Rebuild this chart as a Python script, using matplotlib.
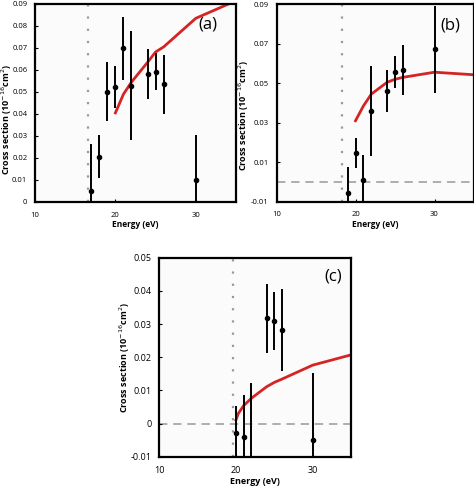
import matplotlib.pyplot as plt
from matplotlib.ticker import FuncFormatter

plt.rcParams['font.family'] = ['Open Sans', 'DejaVu Sans']

# ----- data -----
# panel (a)
a_x = [17, 18, 19, 20, 21, 22, 24, 25, 26, 30]
a_y = [0.0050, 0.0205, 0.0502, 0.0523, 0.0698, 0.0529, 0.0581, 0.0593, 0.0535, 0.0099]
a_err = [0.0212, 0.0098, 0.0133, 0.0094, 0.0143, 0.0247, 0.0114, 0.0083, 0.0134, 0.0205]
a_fit_x = [20, 21, 22, 24, 25, 26, 30, 35]
a_fit_y = [0.0405, 0.0490, 0.0545, 0.0635, 0.0682, 0.0705, 0.0835, 0.0915]
a_thresh = 16.6

# panel (b)
b_x = [19, 20, 21, 22, 24, 25, 26, 30]
b_y = [-0.0054, 0.0148, 0.0008, 0.0359, 0.0461, 0.0557, 0.0566, 0.0672]
b_err = [0.0128, 0.0076, 0.0129, 0.0230, 0.0105, 0.0082, 0.0127, 0.0220]
b_fit_x = [20, 21, 22, 24, 25, 26, 30, 35]
b_fit_y = [0.0310, 0.0385, 0.0445, 0.0505, 0.0520, 0.0530, 0.0556, 0.0543]
b_thresh = 18.3

# panel (c)
c_x = [20, 21, 22, 24, 25, 26, 30]
c_y = [-0.0030, -0.0042, -0.0125, 0.0317, 0.0309, 0.0282, -0.0050]
c_err = [0.0084, 0.0128, 0.0246, 0.0105, 0.0087, 0.0124, 0.0201]
c_fit_x = [20, 20.3, 21, 22, 24, 25, 26, 30, 35]
c_fit_y = [0.0011, 0.0030, 0.0054, 0.0076, 0.0111, 0.0124, 0.0134, 0.0176, 0.0207]
c_thresh = 19.6

W, H = 474, 486
fig = plt.figure(figsize=(W / 100, H / 100), dpi=100)

panels = [
    # rect, x, y, err, fit_x, fit_y, thresh, ylim, yticks, label, label pos,
    # ylabel centre (px), font sizes (tick, xlabel, ylabel), zero line
    ([35 / W, 1 - 202 / H, 201 / W, 198 / H], a_x, a_y, a_err, a_fit_x, a_fit_y,
     a_thresh, (0, 0.09), [0, 0.01, 0.02, 0.03, 0.04, 0.05, 0.06, 0.07, 0.08, 0.09],
     '(a)', (0.905, 0.894), (6.5, 120), (5.5, 6, 6.5), False),
    ([276.5 / W, 1 - 201.7 / H, 197.5 / W, 197.4 / H], b_x, b_y, b_err, b_fit_x, b_fit_y,
     b_thresh, (-0.01, 0.09), [-0.01, 0.01, 0.03, 0.05, 0.07, 0.09],
     '(b)', (0.929, 0.894), (244, 116), (5.5, 6, 6.5), True),
    ([159.3 / W, 1 - 456.7 / H, 191.7 / W, 199 / H], c_x, c_y, c_err, c_fit_x, c_fit_y,
     c_thresh, (-0.01, 0.05), [-0.01, 0, 0.01, 0.02, 0.03, 0.04, 0.05],
     '(c)', (0.953, 0.905), (125, 358), (6.5, 6.5, 6.5), True),
]

for rect, x, y, err, fx, fy, th, ylim, yt, lab, lpos, ylc, fs, zero in panels:
    ax = fig.add_axes(rect)
    ax.set_facecolor('#fbfbfb')
    ax.axvline(th, color='#999999', linestyle=(0, (1, 4.5)), linewidth=1.6, zorder=1)
    if zero:
        ax.axhline(0, color='#a0a0a0', linestyle=(0, (5, 3.5)), linewidth=1.2, zorder=1)
    ax.errorbar(x, y, yerr=err, fmt='o', color='black', ecolor='black',
                markersize=3, elinewidth=1.4, capsize=0, zorder=3)
    ax.plot(fx, fy, color='#d42424', linewidth=2, zorder=2)
    ax.set_xlim(10, 35)
    ax.set_ylim(*ylim)
    ax.set_xticks([10, 20, 30])
    ax.set_yticks(yt)
    ax.yaxis.set_major_formatter(FuncFormatter(lambda v, p: '0' if abs(v) < 1e-9 else '%g' % round(v, 3)))
    ax.tick_params(direction='in', length=2, labelsize=fs[0], pad=7, width=0.8)
    ax.tick_params(axis='y', pad=5.5)
    for s in ax.spines.values():
        s.set_linewidth(1.6)
        s.set_color('black')
    ax.set_xlabel('Energy (eV)', fontsize=fs[1], fontweight='bold', labelpad=1)
    fig.text(ylc[0] / W, 1 - ylc[1] / H, 'Cross section (10$^{-16}$cm$^{2}$)',
             fontsize=fs[2], fontweight='bold', rotation=90, ha='center', va='center')
    ax.text(lpos[0], lpos[1], lab, transform=ax.transAxes, fontsize=12, ha='right', va='center')

fig.savefig('out.png', dpi=100)
